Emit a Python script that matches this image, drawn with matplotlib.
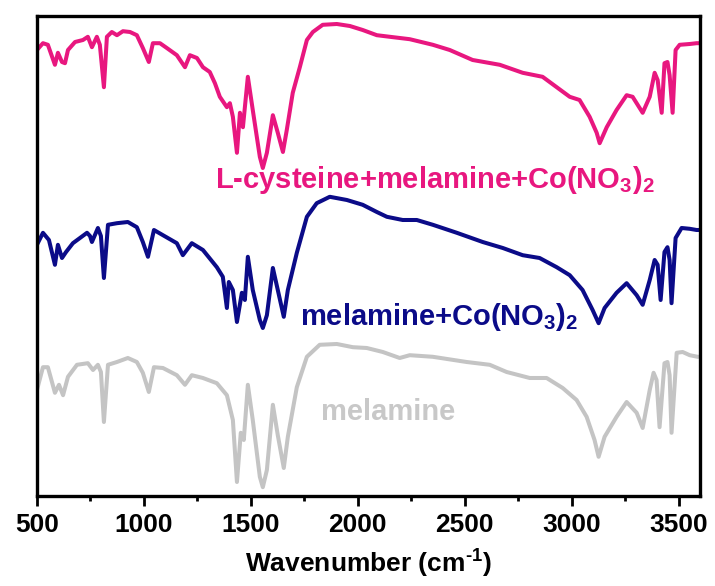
import matplotlib
matplotlib.use("Agg")
import matplotlib.pyplot as plt
from matplotlib.ticker import MultipleLocator

# FTIR spectra, offset transmittance (a.u.)
cys_wn = [500, 528, 551, 584, 598, 617, 631, 645, 678, 715, 738, 757, 780, 794, 813, 827,
          850, 874, 902, 935, 967, 995, 1023, 1042, 1075, 1107, 1154, 1192, 1215, 1248,
          1276, 1308, 1332, 1355, 1388, 1402, 1416, 1435, 1449, 1463, 1486, 1509, 1542,
          1556, 1575, 1603, 1626, 1650, 1668, 1696, 1729, 1762, 1790, 1836, 1902, 1963,
          2023, 2089, 2150, 2243, 2351, 2430, 2537, 2664, 2771, 2864, 2930, 2991, 3037,
          3084, 3117, 3131, 3164, 3210, 3257, 3285, 3332, 3365, 3388, 3402, 3421, 3434,
          3448, 3458, 3472, 3486, 3505, 3552, 3584, 3600]
cys_t = [111.5, 113.2, 112.8, 107.8, 110.8, 108.5, 108.2, 111.5, 113.5, 114.0, 114.8, 112.2,
         114.8, 112.8, 102.2, 114.8, 116.0, 115.2, 116.2, 116.0, 115.2, 112.0, 108.5, 113.2,
         113.2, 112.0, 110.2, 107.2, 110.2, 109.5, 107.2, 106.0, 103.2, 99.8, 97.2, 98.2,
         94.8, 85.8, 95.8, 92.2, 104.8, 96.5, 84.8, 82.0, 85.8, 95.2, 90.8, 86.0, 91.5,
         100.8, 107.2, 114.0, 116.0, 117.8, 118.0, 117.5, 116.5, 115.2, 114.8, 114.2, 112.8,
         111.5, 109.0, 107.8, 105.8, 104.8, 102.2, 99.8, 99.0, 94.8, 90.8, 88.2, 92.2, 96.5,
         100.2, 99.8, 95.8, 99.8, 105.8, 104.0, 95.8, 108.2, 108.5, 105.2, 95.8, 111.5,
         112.8, 113.0, 113.2, 113.2]

mco_wn = [500, 528, 556, 584, 598, 617, 636, 668, 734, 748, 757, 785, 799, 813, 832, 874,
          925, 967, 995, 1019, 1047, 1089, 1154, 1182, 1224, 1276, 1341, 1369, 1388, 1397,
          1416, 1435, 1458, 1472, 1486, 1509, 1542, 1556, 1575, 1603, 1626, 1654, 1673,
          1715, 1762, 1808, 1869, 1949, 2023, 2089, 2136, 2210, 2276, 2351, 2463, 2584,
          2678, 2771, 2850, 2930, 2991, 3051, 3098, 3126, 3154, 3210, 3257, 3304, 3332,
          3365, 3388, 3402, 3416, 3434, 3448, 3458, 3467, 3486, 3514, 3552, 3584, 3600]
mco_t = [62.8, 65.8, 64.0, 57.8, 62.8, 59.5, 61.0, 63.2, 65.8, 65.0, 63.5, 67.0, 65.0, 54.5,
         67.8, 68.2, 68.5, 67.2, 63.5, 59.8, 66.5, 65.2, 63.2, 60.2, 63.2, 61.5, 57.2, 54.8,
         47.0, 53.5, 51.5, 43.5, 50.8, 49.0, 59.8, 51.5, 44.0, 42.0, 45.2, 57.0, 51.5, 44.8,
         51.5, 60.8, 69.8, 73.2, 74.8, 74.0, 72.8, 71.0, 69.8, 69.0, 69.0, 67.8, 65.8, 63.5,
         62.0, 60.2, 59.5, 57.2, 55.2, 51.5, 46.5, 43.2, 47.0, 50.8, 53.2, 50.2, 47.8, 54.0,
         59.0, 57.8, 49.0, 61.0, 62.2, 59.0, 48.2, 64.5, 67.0, 66.8, 66.5, 66.5]

mel_wn = [500, 528, 551, 584, 603, 622, 645, 687, 738, 762, 785, 799, 813, 832, 874, 925,
          967, 995, 1023, 1047, 1089, 1154, 1192, 1224, 1276, 1341, 1388, 1416, 1435, 1453,
          1467, 1486, 1509, 1542, 1556, 1575, 1603, 1626, 1654, 1673, 1715, 1762, 1822,
          1902, 1977, 2042, 2117, 2196, 2243, 2351, 2509, 2617, 2696, 2804, 2883, 2958,
          3023, 3070, 3107, 3126, 3154, 3210, 3257, 3304, 3332, 3365, 3383, 3397, 3411,
          3434, 3448, 3458, 3467, 3491, 3519, 3552, 3589, 3600]
mel_t = [26.5, 32.2, 32.2, 25.8, 27.8, 25.2, 29.8, 32.8, 33.2, 31.5, 32.8, 31.0, 18.5, 32.8,
         33.5, 34.5, 33.5, 30.8, 26.0, 32.2, 32.0, 30.2, 27.8, 30.2, 29.5, 28.2, 25.2, 19.0,
         3.5, 15.8, 14.0, 27.8, 19.0, 4.8, 2.2, 6.5, 22.8, 15.2, 7.0, 14.8, 27.2, 34.8, 37.8,
         38.0, 37.2, 37.0, 36.0, 34.5, 35.2, 34.8, 33.5, 32.8, 31.0, 29.5, 29.5, 27.0, 24.0,
         19.8, 14.0, 9.8, 14.8, 19.8, 23.5, 20.8, 17.0, 26.5, 30.8, 29.0, 17.2, 33.2, 33.5,
         30.2, 15.8, 35.8, 36.0, 35.2, 34.8, 34.8]

x_ticks = [500, 1000, 1500, 2000, 2500, 3000, 3500]

pink = '#E8177F'
navy = '#0B0B88'
grey = '#C4C4C4'

plt.rcParams['font.family'] = 'Liberation Sans'
plt.rcParams['font.weight'] = 'bold'
plt.rcParams['mathtext.fontset'] = 'custom'
plt.rcParams['mathtext.bf'] = 'Liberation Sans:bold'
plt.rcParams['mathtext.rm'] = 'Liberation Sans:bold'
plt.rcParams['mathtext.default'] = 'bf'

fig = plt.figure(figsize=(7.15, 5.86), dpi=100)
ax = fig.add_axes([0.0517, 0.1536, 0.9273, 0.8191])

ax.plot(cys_wn, cys_t, color=pink, lw=2.9, solid_joinstyle='round')
ax.plot(mco_wn, mco_t, color=navy, lw=2.9, solid_joinstyle='round')
ax.plot(mel_wn, mel_t, color=grey, lw=2.9, solid_joinstyle='round')

ax.text(1332, 77, r'L-cysteine+melamine+Co(NO$_3$)$_2$', color=pink,
        fontsize=21, fontweight='bold', va='baseline', ha='left')
ax.text(1729, 42.8, r'melamine+Co(NO$_3$)$_2$', color=navy,
        fontsize=21, fontweight='bold', va='baseline', ha='left')
ax.text(1827, 19, 'melamine', color='#C8C8C8',
        fontsize=21, fontweight='bold', va='baseline', ha='left')

ax.set_xlim(500, 3600)
ax.set_ylim(0, 120)
ax.set_xticks(x_ticks)
ax.xaxis.set_minor_locator(MultipleLocator(250))
ax.set_yticks([])
ax.tick_params(axis='x', which='major', direction='out', length=7, width=2,
               labelsize=19, pad=5)
ax.tick_params(axis='x', which='minor', direction='out', length=3.5, width=2)
for lab in ax.get_xticklabels():
    lab.set_fontweight('bold')
for sp in ax.spines.values():
    sp.set_linewidth(2.4)

ax.set_xlabel('Wavenumber (cm$^{\u2010 1}$)', fontsize=19, fontweight='bold', labelpad=8)

fig.savefig('out.png', dpi=100)
